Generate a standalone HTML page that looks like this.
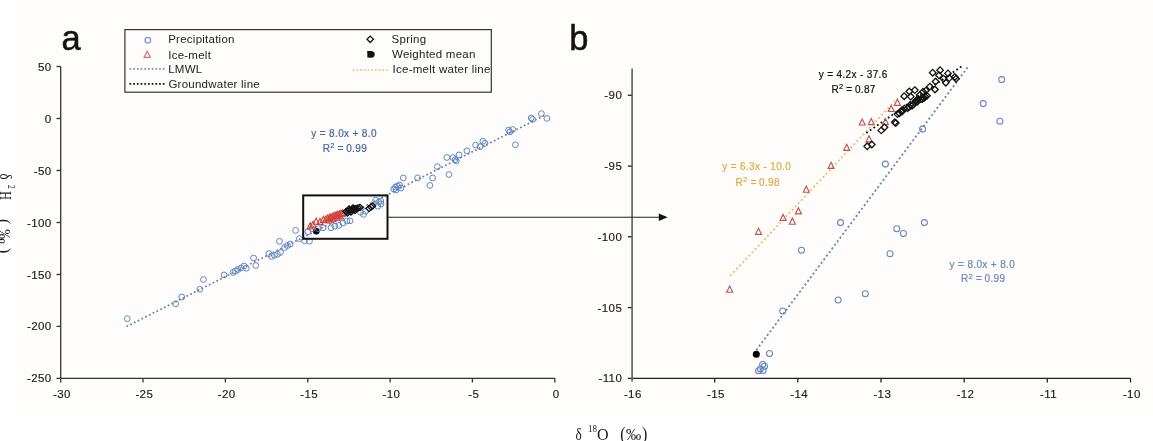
<!DOCTYPE html>
<html><head><meta charset="utf-8"><style>
html,body{margin:0;padding:0;background:#ffffff;}
body{width:1153px;height:441px;overflow:hidden;font-family:"Liberation Sans",sans-serif;}
svg{display:block;will-change:transform;}
</style></head><body>
<svg width="1153" height="441" viewBox="0 0 1153 441" font-family="&quot;Liberation Sans&quot;, sans-serif">
<rect width="1153" height="441" fill="#ffffff"/>
<rect x="16" y="0" width="1137" height="410" fill="#fefdfb"/>
<g stroke="#333" stroke-width="1.3" fill="none">
<line x1="60.7" y1="66.5" x2="60.7" y2="378.4"/>
<line x1="60.7" y1="378.4" x2="555.3" y2="378.4"/>
<line x1="56.5" y1="66.5" x2="60.7" y2="66.5"/>
<line x1="56.5" y1="118.5" x2="60.7" y2="118.5"/>
<line x1="56.5" y1="170.5" x2="60.7" y2="170.5"/>
<line x1="56.5" y1="222.5" x2="60.7" y2="222.5"/>
<line x1="56.5" y1="274.5" x2="60.7" y2="274.5"/>
<line x1="56.5" y1="326.4" x2="60.7" y2="326.4"/>
<line x1="56.5" y1="378.4" x2="60.7" y2="378.4"/>
<line x1="60.7" y1="378.4" x2="60.7" y2="382.5"/>
<line x1="143.0" y1="378.4" x2="143.0" y2="382.5"/>
<line x1="225.4" y1="378.4" x2="225.4" y2="382.5"/>
<line x1="307.8" y1="378.4" x2="307.8" y2="382.5"/>
<line x1="390.1" y1="378.4" x2="390.1" y2="382.5"/>
<line x1="472.4" y1="378.4" x2="472.4" y2="382.5"/>
<line x1="554.8" y1="378.4" x2="554.8" y2="382.5"/>
</g>
<g font-size="11.5" fill="#1a1a1a" stroke="#1a1a1a" stroke-width="0.15" letter-spacing="0.4">
<text x="51.6" y="70.5" text-anchor="end">50</text>
<text x="51.6" y="122.5" text-anchor="end">0</text>
<text x="51.6" y="174.5" text-anchor="end">-50</text>
<text x="51.6" y="226.5" text-anchor="end">-100</text>
<text x="51.6" y="278.5" text-anchor="end">-150</text>
<text x="51.6" y="330.4" text-anchor="end">-200</text>
<text x="51.6" y="382.4" text-anchor="end">-250</text>
<text x="62.0" y="398" text-anchor="middle">-30</text>
<text x="144.3" y="398" text-anchor="middle">-25</text>
<text x="226.7" y="398" text-anchor="middle">-20</text>
<text x="309.1" y="398" text-anchor="middle">-15</text>
<text x="391.4" y="398" text-anchor="middle">-10</text>
<text x="473.7" y="398" text-anchor="middle">-5</text>
<text x="556.1" y="398" text-anchor="middle">0</text>
</g>
<g stroke="#222" stroke-width="1.3" fill="none">
<line x1="632.1" y1="378.4" x2="1130.8" y2="378.4"/>
<line x1="627.8" y1="95.3" x2="632.1" y2="95.3"/>
<line x1="627.8" y1="166.1" x2="632.1" y2="166.1"/>
<line x1="627.8" y1="236.8" x2="632.1" y2="236.8"/>
<line x1="627.8" y1="307.6" x2="632.1" y2="307.6"/>
<line x1="627.8" y1="378.4" x2="632.1" y2="378.4"/>
<line x1="714.7" y1="378.4" x2="714.7" y2="382.5"/>
<line x1="797.8" y1="378.4" x2="797.8" y2="382.5"/>
<line x1="881.0" y1="378.4" x2="881.0" y2="382.5"/>
<line x1="964.2" y1="378.4" x2="964.2" y2="382.5"/>
<line x1="1047.3" y1="378.4" x2="1047.3" y2="382.5"/>
<line x1="1130.5" y1="378.4" x2="1130.5" y2="382.5"/>
<line x1="632.1" y1="68.5" x2="632.1" y2="381.8" stroke="#5c5c5c" stroke-width="1.6"/>
</g>
<g font-size="11.5" fill="#1a1a1a" stroke="#1a1a1a" stroke-width="0.15" letter-spacing="0.4">
<text x="622.2" y="99.3" text-anchor="end">-90</text>
<text x="622.2" y="170.1" text-anchor="end">-95</text>
<text x="622.2" y="240.8" text-anchor="end">-100</text>
<text x="622.2" y="311.6" text-anchor="end">-105</text>
<text x="622.2" y="382.4" text-anchor="end">-110</text>
<text x="632.8" y="398" text-anchor="middle">-16</text>
<text x="716.0" y="398" text-anchor="middle">-15</text>
<text x="799.1" y="398" text-anchor="middle">-14</text>
<text x="882.3" y="398" text-anchor="middle">-13</text>
<text x="965.5" y="398" text-anchor="middle">-12</text>
<text x="1048.6" y="398" text-anchor="middle">-11</text>
<text x="1131.8" y="398" text-anchor="middle">-10</text>
</g>
<line x1="126.5" y1="326.6" x2="546.0" y2="114.6" stroke="#6c7a98" stroke-width="1.7" stroke-dasharray="1.7 2.5"/>
<circle cx="316.3" cy="231.2" r="3.3" fill="#000"/>
<circle cx="127.3" cy="318.7" r="2.9" fill="none" stroke="#5f86c6" stroke-width="1.0"/>
<circle cx="175.7" cy="303.8" r="2.9" fill="none" stroke="#5f86c6" stroke-width="1.0"/>
<circle cx="181.8" cy="297.0" r="2.9" fill="none" stroke="#5f86c6" stroke-width="1.0"/>
<circle cx="199.8" cy="289.3" r="2.9" fill="none" stroke="#5f86c6" stroke-width="1.0"/>
<circle cx="203.5" cy="279.5" r="2.9" fill="none" stroke="#5f86c6" stroke-width="1.0"/>
<circle cx="224.1" cy="274.9" r="2.9" fill="none" stroke="#5f86c6" stroke-width="1.0"/>
<circle cx="233.0" cy="272.5" r="2.9" fill="none" stroke="#5f86c6" stroke-width="1.0"/>
<circle cx="235.5" cy="271.0" r="2.9" fill="none" stroke="#5f86c6" stroke-width="1.0"/>
<circle cx="238.0" cy="269.5" r="2.9" fill="none" stroke="#5f86c6" stroke-width="1.0"/>
<circle cx="241.0" cy="268.0" r="2.9" fill="none" stroke="#5f86c6" stroke-width="1.0"/>
<circle cx="244.0" cy="266.0" r="2.9" fill="none" stroke="#5f86c6" stroke-width="1.0"/>
<circle cx="246.3" cy="268.2" r="2.9" fill="none" stroke="#5f86c6" stroke-width="1.0"/>
<circle cx="253.6" cy="258.0" r="2.9" fill="none" stroke="#5f86c6" stroke-width="1.0"/>
<circle cx="255.8" cy="265.5" r="2.9" fill="none" stroke="#5f86c6" stroke-width="1.0"/>
<circle cx="268.9" cy="253.6" r="2.9" fill="none" stroke="#5f86c6" stroke-width="1.0"/>
<circle cx="271.5" cy="256.5" r="2.9" fill="none" stroke="#5f86c6" stroke-width="1.0"/>
<circle cx="274.5" cy="255.2" r="2.9" fill="none" stroke="#5f86c6" stroke-width="1.0"/>
<circle cx="277.5" cy="254.2" r="2.9" fill="none" stroke="#5f86c6" stroke-width="1.0"/>
<circle cx="280.5" cy="252.5" r="2.9" fill="none" stroke="#5f86c6" stroke-width="1.0"/>
<circle cx="279.5" cy="241.3" r="2.9" fill="none" stroke="#5f86c6" stroke-width="1.0"/>
<circle cx="284.6" cy="247.5" r="2.9" fill="none" stroke="#5f86c6" stroke-width="1.0"/>
<circle cx="287.5" cy="245.5" r="2.9" fill="none" stroke="#5f86c6" stroke-width="1.0"/>
<circle cx="290.3" cy="244.0" r="2.9" fill="none" stroke="#5f86c6" stroke-width="1.0"/>
<circle cx="295.6" cy="230.4" r="2.9" fill="none" stroke="#5f86c6" stroke-width="1.0"/>
<circle cx="299.4" cy="238.6" r="2.9" fill="none" stroke="#5f86c6" stroke-width="1.0"/>
<circle cx="304.5" cy="240.8" r="2.9" fill="none" stroke="#5f86c6" stroke-width="1.0"/>
<circle cx="309.5" cy="241.2" r="2.9" fill="none" stroke="#5f86c6" stroke-width="1.0"/>
<circle cx="307.9" cy="231.7" r="2.9" fill="none" stroke="#5f86c6" stroke-width="1.0"/>
<circle cx="312.0" cy="228.7" r="2.9" fill="none" stroke="#5f86c6" stroke-width="1.0"/>
<circle cx="318.3" cy="228.6" r="2.9" fill="none" stroke="#5f86c6" stroke-width="1.0"/>
<circle cx="323.0" cy="227.8" r="2.9" fill="none" stroke="#5f86c6" stroke-width="1.0"/>
<circle cx="331.0" cy="227.8" r="2.9" fill="none" stroke="#5f86c6" stroke-width="1.0"/>
<circle cx="334.9" cy="226.2" r="2.9" fill="none" stroke="#5f86c6" stroke-width="1.0"/>
<circle cx="338.9" cy="225.4" r="2.9" fill="none" stroke="#5f86c6" stroke-width="1.0"/>
<circle cx="342.9" cy="223.0" r="2.9" fill="none" stroke="#5f86c6" stroke-width="1.0"/>
<circle cx="346.8" cy="221.0" r="2.9" fill="none" stroke="#5f86c6" stroke-width="1.0"/>
<circle cx="350.0" cy="220.8" r="2.9" fill="none" stroke="#5f86c6" stroke-width="1.0"/>
<circle cx="360.4" cy="212.3" r="2.9" fill="none" stroke="#5f86c6" stroke-width="1.0"/>
<circle cx="363.5" cy="214.4" r="2.9" fill="none" stroke="#5f86c6" stroke-width="1.0"/>
<circle cx="365.5" cy="211.3" r="2.9" fill="none" stroke="#5f86c6" stroke-width="1.0"/>
<circle cx="375.7" cy="200.1" r="2.9" fill="none" stroke="#5f86c6" stroke-width="1.0"/>
<circle cx="378.8" cy="202.1" r="2.9" fill="none" stroke="#5f86c6" stroke-width="1.0"/>
<circle cx="380.8" cy="201.1" r="2.9" fill="none" stroke="#5f86c6" stroke-width="1.0"/>
<circle cx="377.8" cy="206.2" r="2.9" fill="none" stroke="#5f86c6" stroke-width="1.0"/>
<circle cx="381.0" cy="204.0" r="2.9" fill="none" stroke="#5f86c6" stroke-width="1.0"/>
<circle cx="393.8" cy="189.0" r="2.9" fill="none" stroke="#5f86c6" stroke-width="1.0"/>
<circle cx="395.5" cy="187.0" r="2.9" fill="none" stroke="#5f86c6" stroke-width="1.0"/>
<circle cx="397.5" cy="186.0" r="2.9" fill="none" stroke="#5f86c6" stroke-width="1.0"/>
<circle cx="399.5" cy="185.0" r="2.9" fill="none" stroke="#5f86c6" stroke-width="1.0"/>
<circle cx="401.0" cy="188.0" r="2.9" fill="none" stroke="#5f86c6" stroke-width="1.0"/>
<circle cx="396.0" cy="190.0" r="2.9" fill="none" stroke="#5f86c6" stroke-width="1.0"/>
<circle cx="403.3" cy="177.9" r="2.9" fill="none" stroke="#5f86c6" stroke-width="1.0"/>
<circle cx="417.6" cy="177.9" r="2.9" fill="none" stroke="#5f86c6" stroke-width="1.0"/>
<circle cx="429.9" cy="185.4" r="2.9" fill="none" stroke="#5f86c6" stroke-width="1.0"/>
<circle cx="432.6" cy="177.9" r="2.9" fill="none" stroke="#5f86c6" stroke-width="1.0"/>
<circle cx="437.3" cy="166.6" r="2.9" fill="none" stroke="#5f86c6" stroke-width="1.0"/>
<circle cx="446.9" cy="157.5" r="2.9" fill="none" stroke="#5f86c6" stroke-width="1.0"/>
<circle cx="448.9" cy="174.5" r="2.9" fill="none" stroke="#5f86c6" stroke-width="1.0"/>
<circle cx="452.9" cy="157.6" r="2.9" fill="none" stroke="#5f86c6" stroke-width="1.0"/>
<circle cx="455.0" cy="159.7" r="2.9" fill="none" stroke="#5f86c6" stroke-width="1.0"/>
<circle cx="459.0" cy="154.9" r="2.9" fill="none" stroke="#5f86c6" stroke-width="1.0"/>
<circle cx="456.3" cy="161.0" r="2.9" fill="none" stroke="#5f86c6" stroke-width="1.0"/>
<circle cx="466.9" cy="150.8" r="2.9" fill="none" stroke="#5f86c6" stroke-width="1.0"/>
<circle cx="475.6" cy="145.1" r="2.9" fill="none" stroke="#5f86c6" stroke-width="1.0"/>
<circle cx="480.1" cy="146.7" r="2.9" fill="none" stroke="#5f86c6" stroke-width="1.0"/>
<circle cx="482.9" cy="141.3" r="2.9" fill="none" stroke="#5f86c6" stroke-width="1.0"/>
<circle cx="484.9" cy="143.3" r="2.9" fill="none" stroke="#5f86c6" stroke-width="1.0"/>
<circle cx="508.6" cy="130.1" r="2.9" fill="none" stroke="#5f86c6" stroke-width="1.0"/>
<circle cx="512.6" cy="129.5" r="2.9" fill="none" stroke="#5f86c6" stroke-width="1.0"/>
<circle cx="509.8" cy="131.8" r="2.9" fill="none" stroke="#5f86c6" stroke-width="1.0"/>
<circle cx="515.4" cy="144.8" r="2.9" fill="none" stroke="#5f86c6" stroke-width="1.0"/>
<circle cx="531.2" cy="118.0" r="2.9" fill="none" stroke="#5f86c6" stroke-width="1.0"/>
<circle cx="532.6" cy="119.4" r="2.9" fill="none" stroke="#5f86c6" stroke-width="1.0"/>
<circle cx="541.4" cy="113.6" r="2.9" fill="none" stroke="#5f86c6" stroke-width="1.0"/>
<circle cx="546.9" cy="118.4" r="2.9" fill="none" stroke="#5f86c6" stroke-width="1.0"/>
<path d="M310.1 222.8 L313.1 228.9 L307.1 228.9 Z" fill="none" stroke="#d2403a" stroke-width="1.1" stroke-linejoin="miter"/>
<path d="M313.0 221.2 L316.0 227.3 L310.0 227.3 Z" fill="none" stroke="#d2403a" stroke-width="1.1" stroke-linejoin="miter"/>
<path d="M316.2 218.1 L319.2 224.2 L313.2 224.2 Z" fill="none" stroke="#d2403a" stroke-width="1.1" stroke-linejoin="miter"/>
<path d="M320.0 218.3 L323.0 224.4 L317.0 224.4 Z" fill="none" stroke="#d2403a" stroke-width="1.1" stroke-linejoin="miter"/>
<path d="M323.4 216.3 L326.4 222.4 L320.4 222.4 Z" fill="none" stroke="#d2403a" stroke-width="1.1" stroke-linejoin="miter"/>
<path d="M325.8 215.9 L328.8 222.0 L322.8 222.0 Z" fill="none" stroke="#d2403a" stroke-width="1.1" stroke-linejoin="miter"/>
<path d="M327.6 214.9 L330.6 221.0 L324.6 221.0 Z" fill="none" stroke="#d2403a" stroke-width="1.1" stroke-linejoin="miter"/>
<path d="M329.5 214.3 L332.5 220.4 L326.5 220.4 Z" fill="none" stroke="#d2403a" stroke-width="1.1" stroke-linejoin="miter"/>
<path d="M331.0 213.7 L334.0 219.8 L328.0 219.8 Z" fill="none" stroke="#d2403a" stroke-width="1.1" stroke-linejoin="miter"/>
<path d="M332.9 212.9 L335.9 219.0 L329.9 219.0 Z" fill="none" stroke="#d2403a" stroke-width="1.1" stroke-linejoin="miter"/>
<path d="M334.6 212.3 L337.6 218.4 L331.6 218.4 Z" fill="none" stroke="#d2403a" stroke-width="1.1" stroke-linejoin="miter"/>
<path d="M336.2 211.8 L339.2 217.8 L333.2 217.8 Z" fill="none" stroke="#d2403a" stroke-width="1.1" stroke-linejoin="miter"/>
<path d="M337.8 211.2 L340.8 217.3 L334.8 217.3 Z" fill="none" stroke="#d2403a" stroke-width="1.1" stroke-linejoin="miter"/>
<path d="M339.4 210.8 L342.4 216.8 L336.4 216.8 Z" fill="none" stroke="#d2403a" stroke-width="1.1" stroke-linejoin="miter"/>
<path d="M341.0 210.2 L344.0 216.3 L338.0 216.3 Z" fill="none" stroke="#d2403a" stroke-width="1.1" stroke-linejoin="miter"/>
<path d="M342.6 209.8 L345.6 215.8 L339.6 215.8 Z" fill="none" stroke="#d2403a" stroke-width="1.1" stroke-linejoin="miter"/>
<path d="M329.0 216.9 L332.0 223.0 L326.0 223.0 Z" fill="none" stroke="#d2403a" stroke-width="1.1" stroke-linejoin="miter"/>
<path d="M333.0 215.8 L336.0 221.8 L330.0 221.8 Z" fill="none" stroke="#d2403a" stroke-width="1.1" stroke-linejoin="miter"/>
<path d="M337.0 214.2 L340.0 220.3 L334.0 220.3 Z" fill="none" stroke="#d2403a" stroke-width="1.1" stroke-linejoin="miter"/>
<path d="M340.5 212.9 L343.5 219.0 L337.5 219.0 Z" fill="none" stroke="#d2403a" stroke-width="1.1" stroke-linejoin="miter"/>
<path d="M346.0 208.3 L349.2 211.5 L346.0 214.7 L342.8 211.5 Z" fill="none" stroke="#111" stroke-width="1.3"/>
<path d="M348.0 207.8 L351.2 211.0 L348.0 214.2 L344.8 211.0 Z" fill="none" stroke="#111" stroke-width="1.3"/>
<path d="M350.0 207.1 L353.2 210.3 L350.0 213.5 L346.8 210.3 Z" fill="none" stroke="#111" stroke-width="1.3"/>
<path d="M352.0 206.6 L355.2 209.8 L352.0 213.0 L348.8 209.8 Z" fill="none" stroke="#111" stroke-width="1.3"/>
<path d="M354.0 206.0 L357.2 209.2 L354.0 212.4 L350.8 209.2 Z" fill="none" stroke="#111" stroke-width="1.3"/>
<path d="M356.0 205.4 L359.2 208.6 L356.0 211.8 L352.8 208.6 Z" fill="none" stroke="#111" stroke-width="1.3"/>
<path d="M358.0 204.8 L361.2 208.0 L358.0 211.2 L354.8 208.0 Z" fill="none" stroke="#111" stroke-width="1.3"/>
<path d="M360.0 204.3 L363.2 207.5 L360.0 210.7 L356.8 207.5 Z" fill="none" stroke="#111" stroke-width="1.3"/>
<path d="M347.5 209.8 L350.7 213.0 L347.5 216.2 L344.3 213.0 Z" fill="none" stroke="#111" stroke-width="1.3"/>
<path d="M351.0 208.8 L354.2 212.0 L351.0 215.2 L347.8 212.0 Z" fill="none" stroke="#111" stroke-width="1.3"/>
<path d="M355.0 207.3 L358.2 210.5 L355.0 213.7 L351.8 210.5 Z" fill="none" stroke="#111" stroke-width="1.3"/>
<path d="M349.0 205.8 L352.2 209.0 L349.0 212.2 L345.8 209.0 Z" fill="none" stroke="#111" stroke-width="1.3"/>
<path d="M353.0 204.8 L356.2 208.0 L353.0 211.2 L349.8 208.0 Z" fill="none" stroke="#111" stroke-width="1.3"/>
<path d="M369.0 205.3 L372.2 208.5 L369.0 211.7 L365.8 208.5 Z" fill="none" stroke="#111" stroke-width="1.3"/>
<path d="M371.0 203.8 L374.2 207.0 L371.0 210.2 L367.8 207.0 Z" fill="none" stroke="#111" stroke-width="1.3"/>
<path d="M372.5 202.8 L375.7 206.0 L372.5 209.2 L369.3 206.0 Z" fill="none" stroke="#111" stroke-width="1.3"/>
<rect x="303.2" y="195.4" width="84.3" height="43.4" fill="none" stroke="#111" stroke-width="2"/>
<line x1="388" y1="217.3" x2="660" y2="217.3" stroke="#222" stroke-width="1.1"/>
<path d="M658.8 213.6 L667.6 217.3 L658.8 221 Z" fill="#111"/>
<line x1="756.3" y1="350.1" x2="969.0" y2="65.5" stroke="#6683b8" stroke-width="1.8" stroke-dasharray="2.0 2.5"/>
<line x1="730.2" y1="275.9" x2="897.6" y2="98.1" stroke="#e8c070" stroke-width="1.8" stroke-dasharray="2.0 2.5"/>
<line x1="866.3" y1="133.1" x2="962.0" y2="66.0" stroke="#111" stroke-width="1.8" stroke-dasharray="1.8 2.6"/>
<circle cx="1001.7" cy="79.6" r="3.0" fill="none" stroke="#6585c0" stroke-width="1.05"/>
<circle cx="983.2" cy="103.6" r="3.0" fill="none" stroke="#6585c0" stroke-width="1.05"/>
<circle cx="999.9" cy="121.3" r="3.0" fill="none" stroke="#6585c0" stroke-width="1.05"/>
<circle cx="922.6" cy="129.1" r="3.0" fill="none" stroke="#6585c0" stroke-width="1.05"/>
<circle cx="885.4" cy="164.1" r="3.0" fill="none" stroke="#6585c0" stroke-width="1.05"/>
<circle cx="840.5" cy="222.6" r="3.0" fill="none" stroke="#6585c0" stroke-width="1.05"/>
<circle cx="801.5" cy="250.2" r="3.0" fill="none" stroke="#6585c0" stroke-width="1.05"/>
<circle cx="896.8" cy="228.7" r="3.0" fill="none" stroke="#6585c0" stroke-width="1.05"/>
<circle cx="903.4" cy="233.5" r="3.0" fill="none" stroke="#6585c0" stroke-width="1.05"/>
<circle cx="924.4" cy="222.6" r="3.0" fill="none" stroke="#6585c0" stroke-width="1.05"/>
<circle cx="890.0" cy="253.8" r="3.0" fill="none" stroke="#6585c0" stroke-width="1.05"/>
<circle cx="838.2" cy="300.0" r="3.0" fill="none" stroke="#6585c0" stroke-width="1.05"/>
<circle cx="865.3" cy="293.7" r="3.0" fill="none" stroke="#6585c0" stroke-width="1.05"/>
<circle cx="782.7" cy="311.0" r="3.0" fill="none" stroke="#6585c0" stroke-width="1.05"/>
<circle cx="769.5" cy="353.4" r="3.0" fill="none" stroke="#6585c0" stroke-width="1.05"/>
<circle cx="762.7" cy="364.5" r="3.0" fill="none" stroke="#6585c0" stroke-width="1.05"/>
<circle cx="764.5" cy="366.3" r="3.0" fill="none" stroke="#6585c0" stroke-width="1.05"/>
<circle cx="760.4" cy="369.0" r="3.0" fill="none" stroke="#6585c0" stroke-width="1.05"/>
<circle cx="763.1" cy="370.4" r="3.0" fill="none" stroke="#6585c0" stroke-width="1.05"/>
<circle cx="758.6" cy="370.8" r="3.0" fill="none" stroke="#6585c0" stroke-width="1.05"/>
<path d="M729.7 286.1 L732.7 292.2 L726.7 292.2 Z" fill="none" stroke="#bf5450" stroke-width="1.15" stroke-linejoin="miter"/>
<path d="M758.5 228.2 L761.5 234.3 L755.5 234.3 Z" fill="none" stroke="#bf5450" stroke-width="1.15" stroke-linejoin="miter"/>
<path d="M783.1 214.4 L786.1 220.5 L780.1 220.5 Z" fill="none" stroke="#bf5450" stroke-width="1.15" stroke-linejoin="miter"/>
<path d="M792.4 218.1 L795.4 224.2 L789.4 224.2 Z" fill="none" stroke="#bf5450" stroke-width="1.15" stroke-linejoin="miter"/>
<path d="M798.4 207.8 L801.4 213.9 L795.4 213.9 Z" fill="none" stroke="#bf5450" stroke-width="1.15" stroke-linejoin="miter"/>
<path d="M806.3 186.1 L809.3 192.2 L803.3 192.2 Z" fill="none" stroke="#bf5450" stroke-width="1.15" stroke-linejoin="miter"/>
<path d="M831.1 162.3 L834.1 168.4 L828.1 168.4 Z" fill="none" stroke="#bf5450" stroke-width="1.15" stroke-linejoin="miter"/>
<path d="M846.7 144.2 L849.7 150.3 L843.7 150.3 Z" fill="none" stroke="#bf5450" stroke-width="1.15" stroke-linejoin="miter"/>
<path d="M862.2 119.0 L865.2 125.0 L859.2 125.0 Z" fill="none" stroke="#bf5450" stroke-width="1.15" stroke-linejoin="miter"/>
<path d="M871.3 118.5 L874.3 124.6 L868.3 124.6 Z" fill="none" stroke="#bf5450" stroke-width="1.15" stroke-linejoin="miter"/>
<path d="M885.4 118.5 L888.4 124.6 L882.4 124.6 Z" fill="none" stroke="#bf5450" stroke-width="1.15" stroke-linejoin="miter"/>
<path d="M869.0 135.8 L872.0 141.8 L866.0 141.8 Z" fill="none" stroke="#bf5450" stroke-width="1.15" stroke-linejoin="miter"/>
<path d="M891.2 105.5 L894.2 111.5 L888.2 111.5 Z" fill="none" stroke="#bf5450" stroke-width="1.15" stroke-linejoin="miter"/>
<path d="M897.4 99.2 L900.4 105.3 L894.4 105.3 Z" fill="none" stroke="#bf5450" stroke-width="1.15" stroke-linejoin="miter"/>
<path d="M867.2 143.0 L870.5 146.3 L867.2 149.6 L863.9 146.3 Z" fill="none" stroke="#111" stroke-width="1.25"/>
<path d="M871.8 141.2 L875.1 144.5 L871.8 147.8 L868.5 144.5 Z" fill="none" stroke="#111" stroke-width="1.25"/>
<path d="M881.3 127.1 L884.6 130.4 L881.3 133.7 L878.0 130.4 Z" fill="none" stroke="#111" stroke-width="1.25"/>
<path d="M884.5 123.9 L887.8 127.2 L884.5 130.5 L881.2 127.2 Z" fill="none" stroke="#111" stroke-width="1.25"/>
<path d="M894.8 119.0 L898.1 122.3 L894.8 125.6 L891.5 122.3 Z" fill="none" stroke="#111" stroke-width="1.25"/>
<path d="M895.8 119.8 L899.1 123.1 L895.8 126.4 L892.5 123.1 Z" fill="none" stroke="#111" stroke-width="1.25"/>
<path d="M904.2 92.9 L907.5 96.2 L904.2 99.5 L900.9 96.2 Z" fill="none" stroke="#111" stroke-width="1.25"/>
<path d="M909.3 88.2 L912.6 91.5 L909.3 94.8 L906.0 91.5 Z" fill="none" stroke="#111" stroke-width="1.25"/>
<path d="M914.8 86.8 L918.1 90.1 L914.8 93.4 L911.5 90.1 Z" fill="none" stroke="#111" stroke-width="1.25"/>
<path d="M910.7 93.3 L914.0 96.6 L910.7 99.9 L907.4 96.6 Z" fill="none" stroke="#111" stroke-width="1.25"/>
<path d="M932.7 69.4 L936.0 72.7 L932.7 76.0 L929.4 72.7 Z" fill="none" stroke="#111" stroke-width="1.25"/>
<path d="M940.1 66.9 L943.4 70.2 L940.1 73.5 L936.8 70.2 Z" fill="none" stroke="#111" stroke-width="1.25"/>
<path d="M939.0 72.0 L942.3 75.3 L939.0 78.6 L935.7 75.3 Z" fill="none" stroke="#111" stroke-width="1.25"/>
<path d="M948.0 70.1 L951.3 73.4 L948.0 76.7 L944.7 73.4 Z" fill="none" stroke="#111" stroke-width="1.25"/>
<path d="M943.5 75.4 L946.8 78.7 L943.5 82.0 L940.2 78.7 Z" fill="none" stroke="#111" stroke-width="1.25"/>
<path d="M949.2 74.8 L952.5 78.1 L949.2 81.4 L945.9 78.1 Z" fill="none" stroke="#111" stroke-width="1.25"/>
<path d="M945.8 79.4 L949.1 82.7 L945.8 86.0 L942.5 82.7 Z" fill="none" stroke="#111" stroke-width="1.25"/>
<path d="M954.8 73.7 L958.1 77.0 L954.8 80.3 L951.5 77.0 Z" fill="none" stroke="#111" stroke-width="1.25"/>
<path d="M956.0 75.4 L959.3 78.7 L956.0 82.0 L952.7 78.7 Z" fill="none" stroke="#111" stroke-width="1.25"/>
<path d="M935.6 78.2 L938.9 81.5 L935.6 84.8 L932.3 81.5 Z" fill="none" stroke="#111" stroke-width="1.25"/>
<path d="M935.0 86.2 L938.3 89.5 L935.0 92.8 L931.7 89.5 Z" fill="none" stroke="#111" stroke-width="1.25"/>
<path d="M929.9 83.3 L933.2 86.6 L929.9 89.9 L926.6 86.6 Z" fill="none" stroke="#111" stroke-width="1.25"/>
<path d="M925.9 87.3 L929.2 90.6 L925.9 93.9 L922.6 90.6 Z" fill="none" stroke="#111" stroke-width="1.25"/>
<path d="M923.1 88.4 L926.4 91.7 L923.1 95.0 L919.8 91.7 Z" fill="none" stroke="#111" stroke-width="1.25"/>
<path d="M919.7 91.8 L923.0 95.1 L919.7 98.4 L916.4 95.1 Z" fill="none" stroke="#111" stroke-width="1.25"/>
<path d="M917.4 96.4 L920.7 99.7 L917.4 103.0 L914.1 99.7 Z" fill="none" stroke="#111" stroke-width="1.25"/>
<path d="M897.5 110.8 L900.8 114.1 L897.5 117.4 L894.2 114.1 Z" fill="none" stroke="#111" stroke-width="1.25"/>
<path d="M899.4 109.9 L902.7 113.2 L899.4 116.5 L896.1 113.2 Z" fill="none" stroke="#111" stroke-width="1.25"/>
<path d="M901.7 107.1 L905.0 110.4 L901.7 113.7 L898.4 110.4 Z" fill="none" stroke="#111" stroke-width="1.25"/>
<path d="M902.1 108.3 L905.4 111.6 L902.1 114.9 L898.8 111.6 Z" fill="none" stroke="#111" stroke-width="1.25"/>
<path d="M904.3 105.3 L907.6 108.6 L904.3 111.9 L901.0 108.6 Z" fill="none" stroke="#111" stroke-width="1.25"/>
<path d="M907.5 104.9 L910.8 108.2 L907.5 111.5 L904.2 108.2 Z" fill="none" stroke="#111" stroke-width="1.25"/>
<path d="M908.9 103.7 L912.2 107.0 L908.9 110.3 L905.6 107.0 Z" fill="none" stroke="#111" stroke-width="1.25"/>
<path d="M910.2 101.6 L913.5 104.9 L910.2 108.2 L906.9 104.9 Z" fill="none" stroke="#111" stroke-width="1.25"/>
<path d="M911.9 102.6 L915.2 105.9 L911.9 109.2 L908.6 105.9 Z" fill="none" stroke="#111" stroke-width="1.25"/>
<path d="M913.4 101.1 L916.7 104.4 L913.4 107.7 L910.1 104.4 Z" fill="none" stroke="#111" stroke-width="1.25"/>
<path d="M915.4 97.9 L918.7 101.2 L915.4 104.5 L912.1 101.2 Z" fill="none" stroke="#111" stroke-width="1.25"/>
<path d="M917.3 98.4 L920.6 101.7 L917.3 105.0 L914.0 101.7 Z" fill="none" stroke="#111" stroke-width="1.25"/>
<path d="M918.1 95.5 L921.4 98.8 L918.1 102.1 L914.8 98.8 Z" fill="none" stroke="#111" stroke-width="1.25"/>
<path d="M920.9 95.7 L924.2 99.0 L920.9 102.3 L917.6 99.0 Z" fill="none" stroke="#111" stroke-width="1.25"/>
<path d="M922.3 95.8 L925.6 99.1 L922.3 102.4 L919.0 99.1 Z" fill="none" stroke="#111" stroke-width="1.25"/>
<path d="M924.0 94.8 L927.3 98.1 L924.0 101.4 L920.7 98.1 Z" fill="none" stroke="#111" stroke-width="1.25"/>
<path d="M925.1 93.2 L928.4 96.5 L925.1 99.8 L921.8 96.5 Z" fill="none" stroke="#111" stroke-width="1.25"/>
<path d="M926.9 92.5 L930.2 95.8 L926.9 99.1 L923.6 95.8 Z" fill="none" stroke="#111" stroke-width="1.25"/>
<circle cx="756.3" cy="354.3" r="3.5" fill="#000"/>
<g font-size="10" letter-spacing="0.35" stroke-width="0.2">
<text x="311.3" y="136.8" fill="#4566a2" stroke="#4566a2">y = 8.0x + 8.0</text>
<text x="322.7" y="151.8" fill="#4566a2" stroke="#4566a2">R<tspan dy="-3.6" font-size="7.5">2</tspan><tspan dy="3.6" letter-spacing="0"> = </tspan>0.99</text>
<text x="818.7" y="77.5" fill="#111" stroke="#111">y = 4.2x - 37.6</text>
<text x="831.4" y="93" fill="#111" stroke="#111">R<tspan dy="-3.6" font-size="7.5">2</tspan><tspan dy="3.6" letter-spacing="0"> = </tspan>0.87</text>
<text x="722.2" y="170.4" fill="#e2a83c" stroke="#e2a83c">y = 6.3x - 10.0</text>
<text x="735.5" y="185.7" fill="#e2a83c" stroke="#e2a83c">R<tspan dy="-3.6" font-size="7.5">2</tspan><tspan dy="3.6" letter-spacing="0"> = </tspan>0.98</text>
<text x="949.6" y="267.7" fill="#6a88bc" stroke="#6a88bc">y = 8.0x + 8.0</text>
<text x="961" y="282.4" fill="#6a88bc" stroke="#6a88bc">R<tspan dy="-3.6" font-size="7.5">2</tspan><tspan dy="3.6" letter-spacing="0"> = </tspan>0.99</text>
</g>
<rect x="124.9" y="29.6" width="366.4" height="62.6" fill="none" stroke="#333" stroke-width="1.2"/>
<circle cx="147.8" cy="40.2" r="2.8" fill="none" stroke="#6f93cc" stroke-width="1.2"/>
<path d="M147.2 51.2 L150.3 57.4 L144.1 57.4 Z" fill="none" stroke="#d07570" stroke-width="1.2" stroke-linejoin="miter"/>
<line x1="129.5" y1="68.8" x2="165.0" y2="68.8" stroke="#7590c0" stroke-width="1.7" stroke-dasharray="1.7 2.0"/>
<line x1="129.5" y1="83.8" x2="166.0" y2="83.8" stroke="#111" stroke-width="1.7" stroke-dasharray="1.7 2.0"/>
<path d="M370.2 36.1 L373.4 39.3 L370.2 42.5 L367.0 39.3 Z" fill="none" stroke="#111" stroke-width="1.3"/>
<path d="M367.2 51.1 L371.6 51.1 Q374.7 51.6 374.7 54.4 Q374.6 57.4 371.4 57.7 L367.4 57.5 Z" fill="#111"/>
<line x1="352.7" y1="70.2" x2="389.5" y2="70.2" stroke="#ecc870" stroke-width="1.7" stroke-dasharray="1.7 2.0"/>
<g font-size="11.5" fill="#222" letter-spacing="0.25">
<text x="168.2" y="42.9">Precipitation</text>
<text x="168.2" y="58.6">Ice-melt</text>
<text x="168.2" y="72.7">LMWL</text>
<text x="168.4" y="87.8">Groundwater line</text>
<text x="391.6" y="42.8">Spring</text>
<text x="392" y="57.9">Weighted mean</text>
<text x="392.6" y="73.4">Ice-melt water line</text>
</g>
<text x="61.6" y="49.9" font-size="34.5" fill="#111" stroke="#111" stroke-width="0.5">a</text>
<text x="569.2" y="49.9" font-size="34.5" fill="#111" stroke="#111" stroke-width="0.5">b</text>
<g font-family="&quot;Liberation Serif&quot;, serif" fill="#1a1a1a" font-size="16">
<text transform="translate(575.6,440) scale(0.83,1)">δ</text>
<text transform="translate(588.0,431.6) scale(0.9,1)" font-size="10">18</text>
<text x="597.1" y="440">O</text>
<text transform="translate(620.2,440) scale(1,1.12)" font-size="16">(</text>
<text transform="translate(626.0,440) scale(0.95,1)">‰</text>
<text transform="translate(642.0,440) scale(1,1.12)" font-size="16">)</text>
<g transform="rotate(90)">
<text transform="translate(173.4,0.2) scale(0.8,1)">δ</text>
<text transform="translate(185.0,-8.0) scale(0.8,1)" font-size="9.5">2</text>
<text transform="translate(191.3,0.2) scale(0.75,1)">H</text>
<text transform="translate(218.9,0.6) scale(1,1.05)">(</text>
<text transform="translate(229.2,0.6) scale(0.9,1)">‰</text>
<text transform="translate(248.0,0.6) scale(1,1.05)">)</text>
</g>
</g>
</svg>
</body></html>
